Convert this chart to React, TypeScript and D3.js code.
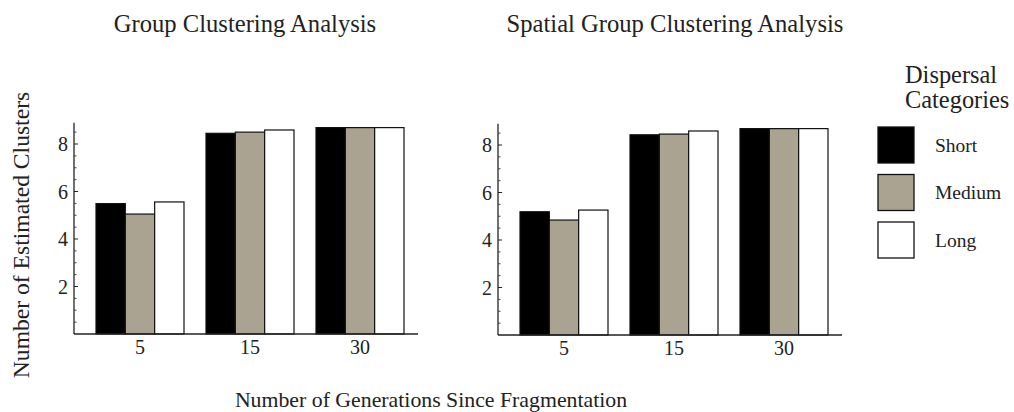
import React from "react";
import * as d3 from "d3";

const generations = ["5", "15", "30"];
const categories = ["Short", "Medium", "Long"];
const colors = ["#000000", "#aba391", "#ffffff"];

const groupShort = [5.49, 8.45, 8.69];
const groupMedium = [5.05, 8.5, 8.69];
const groupLong = [5.56, 8.59, 8.69];

const spatialShort = [5.19, 8.43, 8.69];
const spatialMedium = [4.84, 8.46, 8.69];
const spatialLong = [5.26, 8.59, 8.69];

const yTicks = [2, 4, 6, 8];
const yMinorTicks = [0.5, 1, 1.5, 2.5, 3, 3.5, 4.5, 5, 5.5, 6.5, 7, 7.5, 8.5];

const panels = [
  { title: "Group Clustering Analysis", series: [groupShort, groupMedium, groupLong], x: 74, y0: 334, titleX: 245 },
  { title: "Spatial Group Clustering Analysis", series: [spatialShort, spatialMedium, spatialLong], x: 498, y0: 335, titleX: 675 },
];

const FONT = "'Liberation Serif', 'Times New Roman', serif";
const TEXT = "#222";

function Panel({ p }: { p: (typeof panels)[number] }) {
  const y = d3.scaleLinear().domain([0, 8]).range([p.y0, p.y0 - 190]);
  const xg = d3.scaleBand().domain(generations).range([0, 352]).paddingInner(0.2).paddingOuter(0.2);
  const xi = d3.scaleBand().domain(categories).range([0, xg.bandwidth()]);
  const yTop = y(8.9);
  return (
    <g transform={`translate(${p.x},0)`}>
      <text x={p.titleX - p.x} y={32} textAnchor="middle" fontSize={24.6} fontFamily={FONT} fill={TEXT}>
        {p.title}
      </text>
      {generations.map((g, gi) => (
        <g key={g} transform={`translate(${xg(g)},0)`}>
          {categories.map((c, ci) => {
            const v = p.series[ci][gi];
            return (
              <rect
                key={c}
                x={xi(c)}
                y={y(v)}
                width={xi.bandwidth()}
                height={y(0) - y(v)}
                fill={colors[ci]}
                stroke="#111"
                strokeWidth={1.2}
              />
            );
          })}
          <text x={xg.bandwidth() / 2} y={p.y0 + 20} textAnchor="middle" fontSize={20} fontFamily={FONT} fill={TEXT}>
            {g}
          </text>
        </g>
      ))}
      <line x1={0} x2={0} y1={yTop} y2={p.y0} stroke="#222" strokeWidth={1.3} />
      <line x1={0} x2={344} y1={p.y0} y2={p.y0} stroke="#222" strokeWidth={1.5} />
      {yTicks.map((t) => (
        <g key={t}>
          <line x1={0} x2={4} y1={y(t)} y2={y(t)} stroke="#222" strokeWidth={1} />
          <text x={-6} y={y(t)} dy="0.35em" textAnchor="end" fontSize={20} fontFamily={FONT} fill={TEXT}>
            {t}
          </text>
        </g>
      ))}
      {yMinorTicks.map((t) => (
        <line key={t} x1={0} x2={2.5} y1={y(t)} y2={y(t)} stroke="#444" strokeWidth={1} />
      ))}
    </g>
  );
}

export default function App() {
  return (
    <svg
      width={1014}
      height={412}
      style={{ position: "absolute", left: 0, top: 0, background: "#fff" }}
    >
      <rect width={1014} height={412} fill="#fff" />
      {panels.map((p) => (
        <Panel key={p.title} p={p} />
      ))}
      <text
        transform="translate(29,235) rotate(-90)"
        textAnchor="middle"
        fontSize={23.6}
        fontFamily={FONT}
        fill={TEXT}
      >
        Number of Estimated Clusters
      </text>
      <text x={431} y={407} textAnchor="middle" fontSize={21.8} fontFamily={FONT} fill={TEXT}>
        Number of Generations Since Fragmentation
      </text>
      <text x={905} y={83} fontSize={24.4} fontFamily={FONT} fill={TEXT}>
        Dispersal
      </text>
      <text x={905} y={108} fontSize={24.4} fontFamily={FONT} fill={TEXT}>
        Categories
      </text>
      {categories.map((c, i) => (
        <g key={c} transform={`translate(878,${127 + i * 47.5})`}>
          <rect x={0} y={0} width={36} height={36} fill={colors[i]} stroke="#111" strokeWidth={1.3} />
          <text x={57} y={18} dy="0.35em" fontSize={19.5} fontFamily={FONT} fill={TEXT}>
            {c}
          </text>
        </g>
      ))}
    </svg>
  );
}
